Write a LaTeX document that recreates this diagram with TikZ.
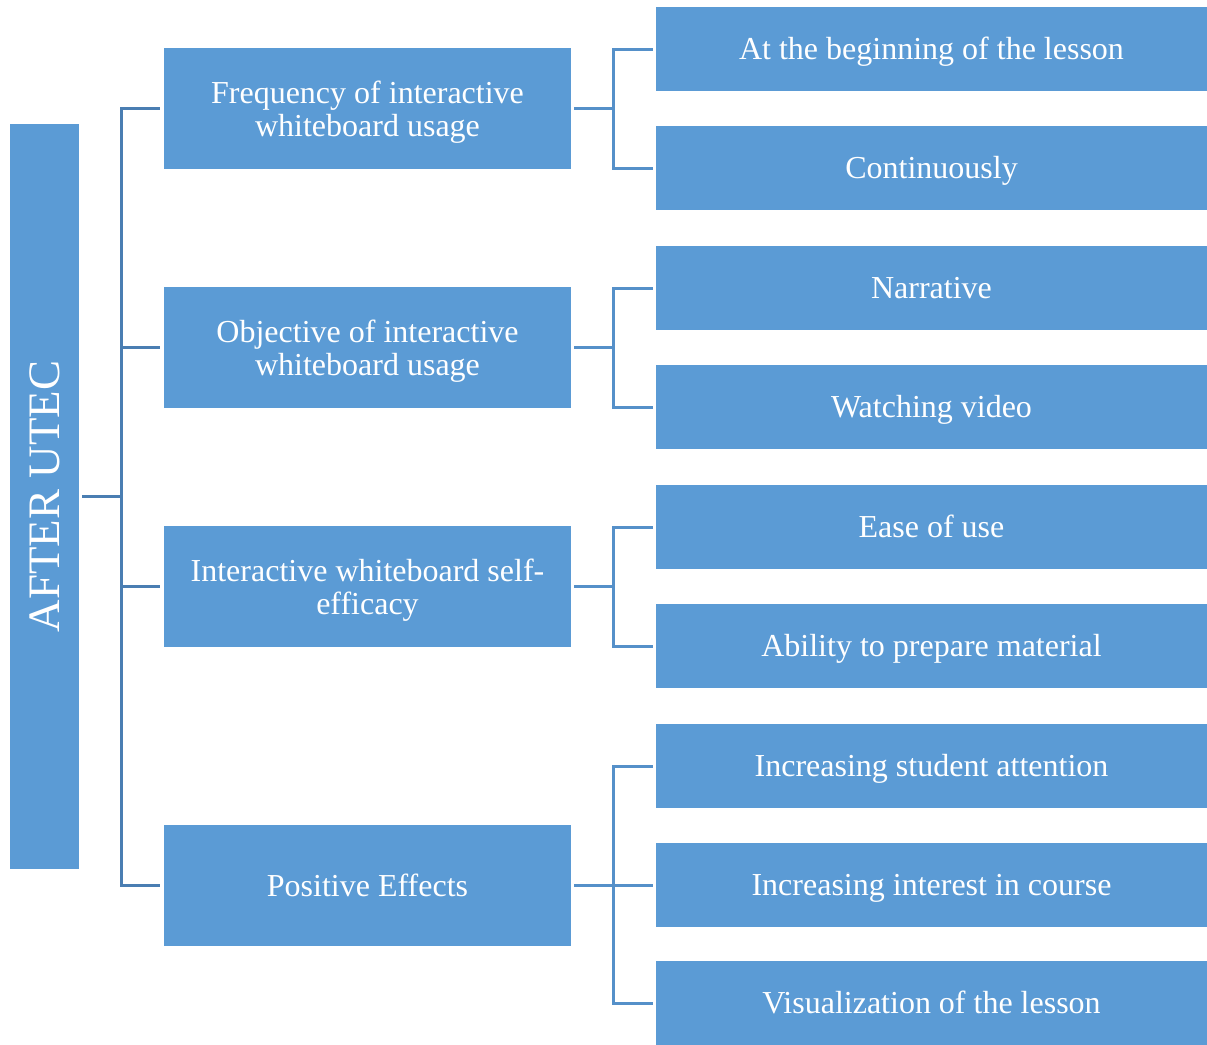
\documentclass[tikz,border=0pt]{standalone}
\usepackage{fontspec}
\setmainfont{Liberation Serif}
\usetikzlibrary{calc}
\definecolor{boxblue}{HTML}{5B9BD5}
\definecolor{rootline}{HTML}{4A7EB2}
\definecolor{leafline}{HTML}{5590C9}
\tikzset{
	rootbox/.style={fill=boxblue, draw=none, minimum width=69pt, minimum height=745pt, inner sep=0pt, text=white, font=\fontsize{45}{48}\selectfont},
	mainbox/.style={fill=boxblue, draw=none, minimum width=407pt, minimum height=121pt, inner sep=0pt, text=white, align=center, font=\fontsize{32}{33}\selectfont},
	twoline/.style={text height=62pt, text depth=7pt},
	leafbox/.style={fill=boxblue, draw=none, minimum width=551pt, minimum height=84pt, inner sep=0pt, text=white, text height=27pt, text depth=7pt, font=\fontsize{32}{34}\selectfont},
	rootlink/.style={draw=rootline, line width=3pt, shorten >=4pt, shorten <=3pt},
	leaflink/.style={draw=leafline, line width=3pt, shorten >=3pt, shorten <=3pt}
}

\begin{document}
\begin{tikzpicture}[x=1pt, y=-1pt]
			%%%%% START %%%%%
			\useasboundingbox (0, 0) rectangle (1207, 1044);
			
			\node[rootbox] (root) at (44.5, 496.5) {\rotatebox{90}{AFTER UTEC}};
			
			\node[mainbox, twoline] (freq) at (367.5, 108.5) {Frequency of interactive\\whiteboard usage};
			\node[mainbox, twoline] (obj) at (367.5, 347.5) {Objective of interactive\\whiteboard usage};
			\node[mainbox, twoline] (self) at (367.5, 586.5) {Interactive whiteboard self-\\efficacy};
			\node[mainbox] (pos) at (367.5, 885) {Positive Effects};
			
			\node[leafbox] (begin) at (931.5, 49) {At the beginning of the lesson};
			\node[leafbox] (cont) at (931.5, 168) {Continuously};
			\node[leafbox] (narr) at (931.5, 288) {Narrative};
			\node[leafbox] (video) at (931.5, 407) {Watching video};
			\node[leafbox] (ease) at (931.5, 527) {Ease of use};
			\node[leafbox] (prep) at (931.5, 646) {Ability to prepare material};
			\node[leafbox] (attn) at (931.5, 766) {Increasing student attention};
			\node[leafbox] (inter) at (931.5, 885) {Increasing interest in course};
			\node[leafbox] (visu) at (931.5, 1003) {Visualization of the lesson};
			
			% root to main boxes
			\foreach \m in {freq, obj, self, pos}
				\draw[rootlink] (root.east) -- ++(42, 0) |- (\m.west);
			
			% main boxes to leaves
			\foreach \p/\c in {freq/begin, freq/cont, obj/narr, obj/video, self/ease, self/prep, pos/attn, pos/inter, pos/visu}
				\draw[leaflink] (\p.east) -- ++(42, 0) |- (\c.west);
			
			%%%%% END %%%%%
		\end{tikzpicture}
\end{document}
